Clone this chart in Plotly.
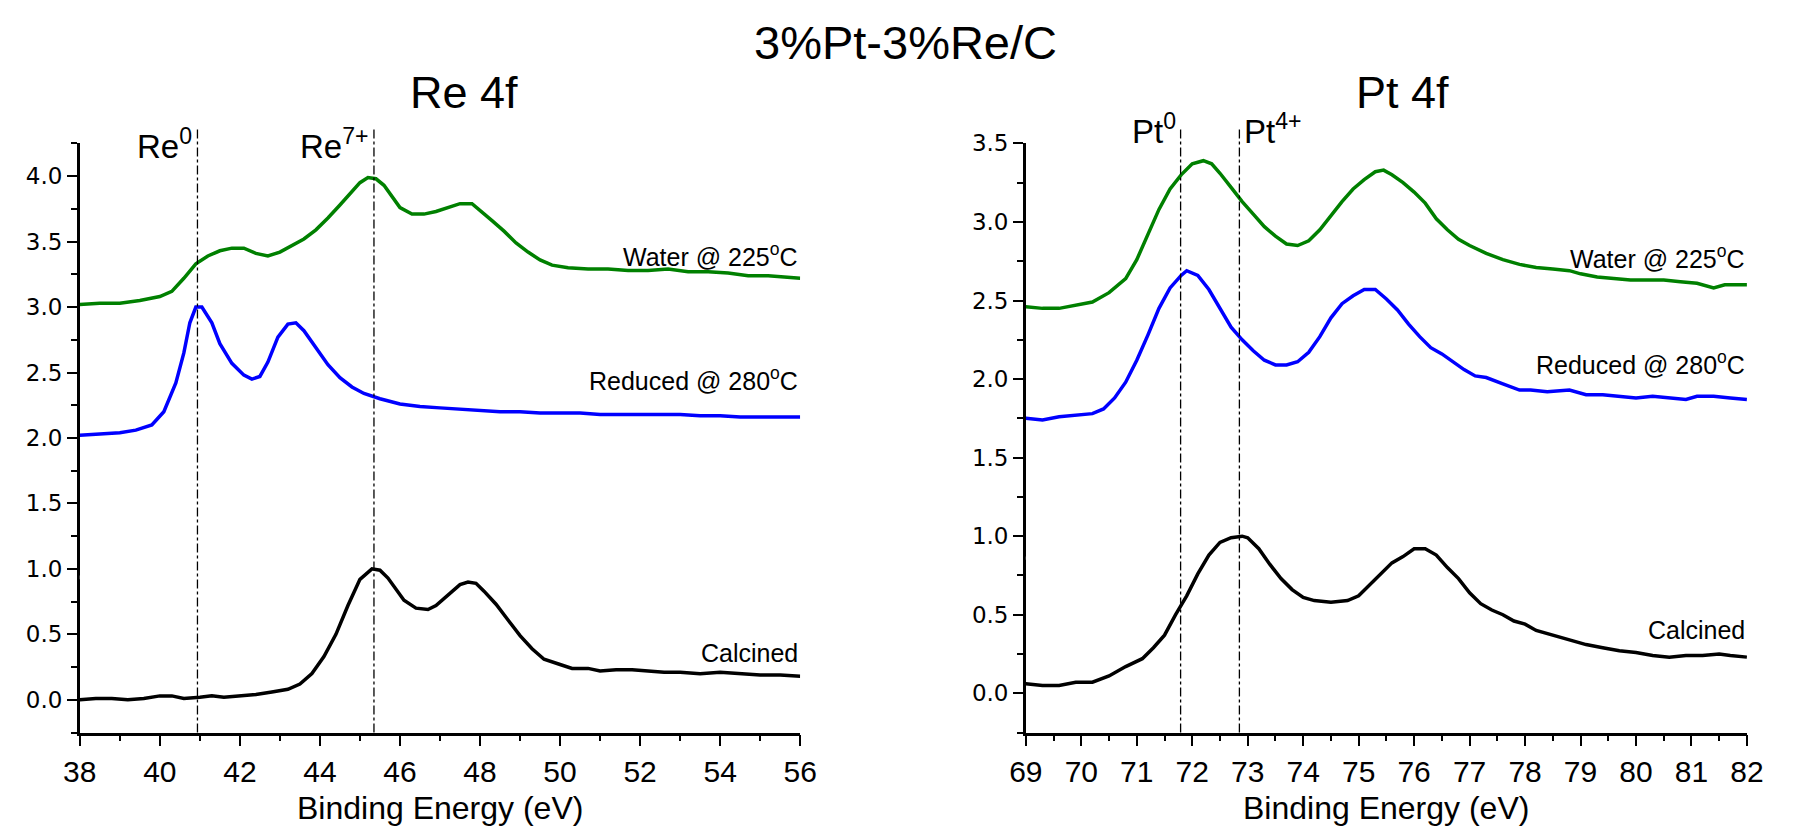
import plotly.graph_objects as go

# ---------------- data ----------------
re_x_water = [38.0, 38.5, 39.0, 39.5, 40.0, 40.3, 40.6, 40.9, 41.2, 41.5, 41.8, 42.1, 42.4, 42.7, 43.0, 43.3, 43.6, 43.9, 44.2, 44.5, 44.8, 45.0, 45.2, 45.4, 45.6, 45.8, 46.0, 46.3, 46.6, 46.9, 47.2, 47.5, 47.8, 48.0, 48.3, 48.6, 48.9, 49.2, 49.5, 49.8, 50.2, 50.7, 51.2, 51.7, 52.2, 52.7, 53.2, 53.7, 54.2, 54.7, 55.2, 55.6, 56.0]
re_y_water = [3.02, 3.03, 3.03, 3.05, 3.08, 3.12, 3.22, 3.33, 3.39, 3.43, 3.45, 3.45, 3.41, 3.39, 3.42, 3.47, 3.52, 3.59, 3.68, 3.78, 3.88, 3.95, 3.99, 3.98, 3.93, 3.85, 3.76, 3.71, 3.71, 3.73, 3.76, 3.79, 3.79, 3.74, 3.66, 3.58, 3.49, 3.42, 3.36, 3.32, 3.30, 3.29, 3.29, 3.28, 3.28, 3.29, 3.27, 3.27, 3.26, 3.24, 3.24, 3.23, 3.22]

re_x_reduced = [38.0, 38.5, 39.0, 39.4, 39.8, 40.1, 40.4, 40.6, 40.75, 40.9, 41.05, 41.3, 41.5, 41.8, 42.1, 42.3, 42.5, 42.7, 42.95, 43.2, 43.4, 43.6, 43.9, 44.2, 44.5, 44.8, 45.1, 45.5, 46.0, 46.5, 47.0, 47.5, 48.0, 48.5, 49.0, 49.5, 50.0, 50.5, 51.0, 51.5, 52.0, 52.5, 53.0, 53.5, 54.0, 54.5, 55.0, 55.5, 56.0]
re_y_reduced = [2.02, 2.03, 2.04, 2.06, 2.10, 2.20, 2.42, 2.65, 2.88, 3.00, 3.00, 2.88, 2.72, 2.57, 2.48, 2.45, 2.47, 2.58, 2.77, 2.87, 2.88, 2.82, 2.69, 2.56, 2.46, 2.39, 2.34, 2.30, 2.26, 2.24, 2.23, 2.22, 2.21, 2.20, 2.20, 2.19, 2.19, 2.19, 2.18, 2.18, 2.18, 2.18, 2.18, 2.17, 2.17, 2.16, 2.16, 2.16, 2.16]

re_x_calcined = [38.0, 38.4, 38.8, 39.2, 39.6, 40.0, 40.3, 40.6, 41.0, 41.3, 41.6, 42.0, 42.4, 42.8, 43.2, 43.5, 43.8, 44.1, 44.4, 44.7, 45.0, 45.3, 45.5, 45.7, 45.9, 46.1, 46.4, 46.7, 46.9, 47.2, 47.5, 47.7, 47.9, 48.1, 48.4, 48.7, 49.0, 49.3, 49.6, 50.0, 50.3, 50.7, 51.0, 51.4, 51.8, 52.2, 52.6, 53.0, 53.5, 54.0, 54.5, 55.0, 55.5, 56.0]
re_y_calcined = [0.00, 0.01, 0.01, 0.00, 0.01, 0.03, 0.03, 0.01, 0.02, 0.03, 0.02, 0.03, 0.04, 0.06, 0.08, 0.12, 0.20, 0.33, 0.50, 0.72, 0.92, 1.00, 0.99, 0.93, 0.84, 0.76, 0.70, 0.69, 0.72, 0.80, 0.88, 0.90, 0.89, 0.83, 0.73, 0.61, 0.49, 0.39, 0.31, 0.27, 0.24, 0.24, 0.22, 0.23, 0.23, 0.22, 0.21, 0.21, 0.20, 0.21, 0.20, 0.19, 0.19, 0.18]

pt_x_water = [69.0, 69.3, 69.6, 69.9, 70.2, 70.5, 70.8, 71.0, 71.2, 71.4, 71.6, 71.8, 72.0, 72.2, 72.35, 72.5, 72.7, 72.9, 73.1, 73.3, 73.5, 73.7, 73.9, 74.1, 74.3, 74.5, 74.7, 74.9, 75.1, 75.3, 75.45, 75.6, 75.8, 76.0, 76.2, 76.4, 76.6, 76.8, 77.0, 77.3, 77.6, 77.9, 78.2, 78.5, 78.8, 79.0, 79.3, 79.6, 79.9, 80.2, 80.5, 80.8, 81.1, 81.4, 81.6, 82.0]
pt_y_water = [2.46, 2.45, 2.45, 2.47, 2.49, 2.55, 2.64, 2.76, 2.92, 3.08, 3.21, 3.30, 3.37, 3.39, 3.37, 3.31, 3.22, 3.13, 3.05, 2.97, 2.91, 2.86, 2.85, 2.88, 2.95, 3.04, 3.13, 3.21, 3.27, 3.32, 3.33, 3.30, 3.25, 3.19, 3.12, 3.02, 2.95, 2.89, 2.85, 2.80, 2.76, 2.73, 2.71, 2.70, 2.69, 2.67, 2.65, 2.64, 2.63, 2.63, 2.63, 2.62, 2.61, 2.58, 2.60, 2.60]

pt_x_reduced = [69.0, 69.3, 69.6, 69.9, 70.2, 70.4, 70.6, 70.8, 71.0, 71.2, 71.4, 71.6, 71.8, 71.9, 72.1, 72.3, 72.5, 72.7, 72.9, 73.1, 73.3, 73.5, 73.7, 73.9, 74.1, 74.3, 74.5, 74.7, 74.9, 75.1, 75.3, 75.5, 75.7, 75.9, 76.1, 76.3, 76.5, 76.7, 76.9, 77.1, 77.3, 77.6, 77.9, 78.1, 78.4, 78.8, 79.1, 79.4, 79.7, 80.0, 80.3, 80.6, 80.9, 81.1, 81.4, 81.7, 82.0]
pt_y_reduced = [1.75, 1.74, 1.76, 1.77, 1.78, 1.81, 1.88, 1.98, 2.12, 2.28, 2.45, 2.58, 2.66, 2.69, 2.66, 2.57, 2.45, 2.33, 2.25, 2.18, 2.12, 2.09, 2.09, 2.11, 2.17, 2.27, 2.39, 2.48, 2.53, 2.57, 2.57, 2.51, 2.44, 2.35, 2.27, 2.20, 2.16, 2.11, 2.06, 2.02, 2.01, 1.97, 1.93, 1.93, 1.92, 1.93, 1.90, 1.90, 1.89, 1.88, 1.89, 1.88, 1.87, 1.89, 1.89, 1.88, 1.87]

pt_x_calcined = [69.0, 69.3, 69.6, 69.9, 70.2, 70.5, 70.8, 71.1, 71.3, 71.5, 71.7, 71.9, 72.1, 72.3, 72.5, 72.7, 72.9, 73.0, 73.2, 73.4, 73.6, 73.8, 74.0, 74.2, 74.5, 74.8, 75.0, 75.2, 75.4, 75.6, 75.8, 76.0, 76.2, 76.4, 76.6, 76.8, 77.0, 77.2, 77.4, 77.6, 77.8, 78.0, 78.2, 78.5, 78.8, 79.1, 79.4, 79.7, 80.0, 80.3, 80.6, 80.9, 81.2, 81.5, 81.7, 82.0]
pt_y_calcined = [0.06, 0.05, 0.05, 0.07, 0.07, 0.11, 0.17, 0.22, 0.29, 0.37, 0.50, 0.62, 0.76, 0.88, 0.96, 0.99, 1.00, 0.99, 0.92, 0.82, 0.73, 0.66, 0.61, 0.59, 0.58, 0.59, 0.62, 0.69, 0.76, 0.83, 0.87, 0.92, 0.92, 0.88, 0.80, 0.73, 0.64, 0.57, 0.53, 0.50, 0.46, 0.44, 0.40, 0.37, 0.34, 0.31, 0.29, 0.27, 0.26, 0.24, 0.23, 0.24, 0.24, 0.25, 0.24, 0.23]

series_names = ["Water @ 225<sup>o</sup>C", "Reduced @ 280<sup>o</sup>C", "Calcined"]
series_colors = ["#008000", "#0000FF", "#000000"]

re_ref_lines = [40.94, 45.35]
re_ref_labels = ["Re<sup>0</sup>", "Re<sup>7+</sup>"]
pt_ref_lines = [71.79, 72.85]
pt_ref_labels = ["Pt<sup>0</sup>", "Pt<sup>4+</sup>"]

re_label_y = [3.40, 2.45, 0.36]
pt_label_y = [2.78, 2.10, 0.40]

re_xticks = list(range(38, 57, 2))
pt_xticks = list(range(69, 83, 1))

# ---------------- figure ----------------
W, H = 1797, 829
FONT = "Liberation Sans, Arial, sans-serif"

fig = go.Figure()

re_sets = [(re_x_water, re_y_water), (re_x_reduced, re_y_reduced), (re_x_calcined, re_y_calcined)]
pt_sets = [(pt_x_water, pt_y_water), (pt_x_reduced, pt_y_reduced), (pt_x_calcined, pt_y_calcined)]

for (x, y), name, c in zip(re_sets, series_names, series_colors):
    fig.add_trace(go.Scatter(x=x, y=y, mode="lines", name=name, line=dict(color=c, width=3.5),
                             xaxis="x", yaxis="y", showlegend=False))
for (x, y), name, c in zip(pt_sets, series_names, series_colors):
    fig.add_trace(go.Scatter(x=x, y=y, mode="lines", name=name, line=dict(color=c, width=3.5),
                             xaxis="x2", yaxis="y2", showlegend=False))

y_bot = 1 - 731 / H
y_top = 1 - 132.5 / H
left_dom = [64 / W, 798.3 / W]
right_dom = [1028.3 / W, 1763.3 / W]

xcommon = dict(showline=True, linecolor="black", linewidth=2.5, ticks="outside", ticklen=11,
               tickwidth=2, tickcolor="black", showgrid=False, zeroline=False,
               tickfont=dict(family=FONT, size=30, color="black"))
ycommon = dict(showline=True, linecolor="black", linewidth=2.5, ticks="outside", ticklen=10,
               tickwidth=2, tickcolor="black", showgrid=False, zeroline=False,
               tickfont=dict(family="DejaVu Sans, sans-serif", size=23, color="black"),
               tickformat=".1f", domain=[y_bot, y_top])

fig.update_layout(
    width=W, height=H, margin=dict(l=0, r=0, t=0, b=0),
    paper_bgcolor="white", plot_bgcolor="white",
    xaxis=dict(**xcommon, domain=left_dom, range=[38, 56], tickvals=re_xticks, anchor="y",
               minor=dict(dtick=1, ticks="outside", ticklen=6, tickwidth=2, tickcolor="black")),
    yaxis=dict(**ycommon, range=[-0.25, 4.25], dtick=0.5, tick0=0, anchor="x",
               minor=dict(dtick=0.25, tick0=0, ticks="outside", ticklen=6, tickwidth=2, tickcolor="black")),
    xaxis2=dict(**xcommon, domain=right_dom, range=[69, 82], tickvals=pt_xticks, anchor="y2",
                minor=dict(dtick=0.5, ticks="outside", ticklen=6, tickwidth=2, tickcolor="black")),
    yaxis2=dict(**ycommon, range=[-0.25, 3.5], dtick=0.5, tick0=0, anchor="x2",
                minor=dict(dtick=0.25, tick0=0, ticks="outside", ticklen=6, tickwidth=2, tickcolor="black")),
)

line_top = 1 - 117 / H
for xv in re_ref_lines:
    fig.add_shape(type="line", xref="x", yref="paper", x0=xv, x1=xv, y0=y_bot, y1=line_top,
                  line=dict(color="black", width=1.3, dash="dashdot"))
for xv in pt_ref_lines:
    fig.add_shape(type="line", xref="x2", yref="paper", x0=xv, x1=xv, y0=y_bot, y1=line_top,
                  line=dict(color="black", width=1.3, dash="dashdot"))

# small breaks in the y axis lines seen in the original
fig.add_shape(type="line", xref="x", yref="y", x0=38, x1=38, y0=0.92, y1=0.95,
              line=dict(color="white", width=4), layer="above")
fig.add_shape(type="line", xref="x2", yref="y2", x0=69, x1=69, y0=0.85, y1=0.87,
              line=dict(color="white", width=4), layer="above")

ann = []
for xv, t in zip(re_ref_lines, re_ref_labels):
    ann.append(dict(x=xv, y=1 - 133 / H, xref="x", yref="paper", text=t, showarrow=False,
                    xanchor="right", yanchor="middle", xshift=-3,
                    font=dict(family=FONT, size=33, color="black")))
ann.append(dict(x=pt_ref_lines[0], y=1 - 118 / H, xref="x2", yref="paper", text=pt_ref_labels[0],
                showarrow=False, xanchor="right", yanchor="middle", xshift=-3,
                font=dict(family=FONT, size=33, color="black")))
ann.append(dict(x=pt_ref_lines[1], y=1 - 118 / H, xref="x2", yref="paper", text=pt_ref_labels[1],
                showarrow=False, xanchor="left", yanchor="middle", xshift=3,
                font=dict(family=FONT, size=33, color="black")))

for t, yv in zip(series_names, re_label_y):
    ann.append(dict(x=56, y=yv, xref="x", yref="y", text=t, showarrow=False, xanchor="right",
                    yanchor="middle", font=dict(family=FONT, size=25, color="black")))
for t, yv in zip(series_names, pt_label_y):
    ann.append(dict(x=82, y=yv, xref="x2", yref="y2", text=t, showarrow=False, xanchor="right",
                    yanchor="middle", font=dict(family=FONT, size=25, color="black")))

ann.append(dict(x=906 / W, y=1 - 30 / H, xref="paper", yref="paper", text="3%Pt-3%Re/C",
                showarrow=False, xanchor="center", yanchor="middle",
                font=dict(family=FONT, size=47, color="black")))
ann.append(dict(x=456 / W, y=1 - 81 / H, xref="paper", yref="paper", text="Re 4f",
                showarrow=False, xanchor="center", yanchor="middle",
                font=dict(family=FONT, size=45, color="black")))
ann.append(dict(x=1412 / W, y=1 - 81 / H, xref="paper", yref="paper", text="Pt 4f",
                showarrow=False, xanchor="center", yanchor="middle",
                font=dict(family=FONT, size=45, color="black")))
for dom in (left_dom, right_dom):
    ann.append(dict(x=(dom[0] + dom[1]) / 2, y=1 - 808 / H, xref="paper", yref="paper",
                    text="Binding Energy (eV)", showarrow=False, xanchor="center", yanchor="middle",
                    font=dict(family=FONT, size=32, color="black")))

fig.update_layout(annotations=ann)
fig.write_html("out.html")
